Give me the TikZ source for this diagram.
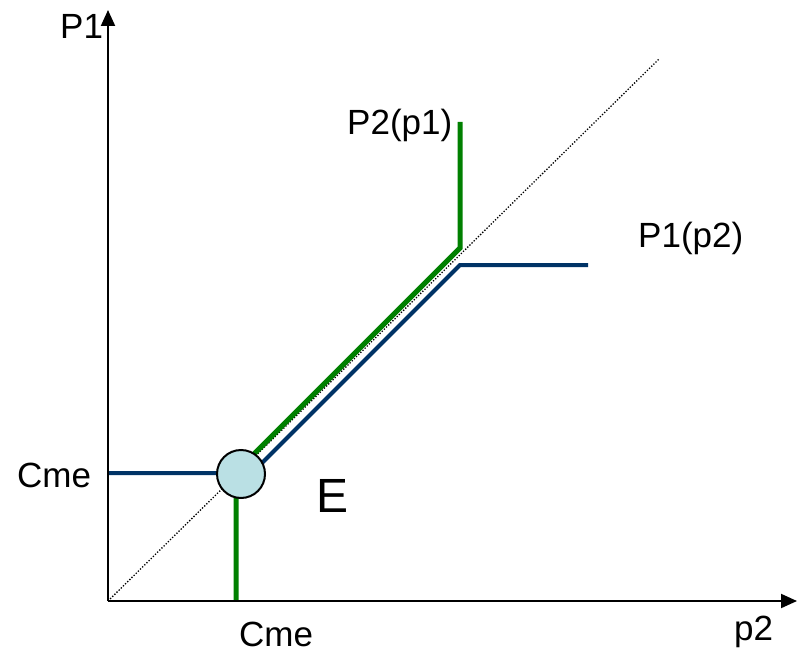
\documentclass[tikz,border=0pt]{standalone}
\usepackage{fontspec}
\setmainfont{Liberation Sans}
\usetikzlibrary{arrows.meta}
\definecolor{navy}{RGB}{0,51,102}
\definecolor{dgreen}{RGB}{0,128,0}
\definecolor{circfill}{RGB}{186,224,228}
\begin{document}
\begin{tikzpicture}[x=1pt,y=-1pt,
  axis/.style={line width=2pt,-{Triangle[length=16pt,width=14pt]}},
  lbl/.style={anchor=base west,inner sep=0pt,font=\fontsize{35}{42}\selectfont},
  blueline/.style={draw=navy,line width=4pt},
  greenline/.style={draw=dgreen,line width=5pt}]
\useasboundingbox (0,0) rectangle (802,655);
% coordinates
\coordinate (O) at (108,601);
\coordinate (Ytop) at (108,10);
\coordinate (Xend) at (797,601);
\coordinate (Dend) at (659,59);
\coordinate (b1) at (108,473);
\coordinate (b2) at (252,473);
\coordinate (b3) at (460,265);
\coordinate (b4) at (588,265);
\coordinate (g1) at (236,601);
\coordinate (g2) at (236,472);
\coordinate (g3) at (460,248);
\coordinate (g4) at (460,122);
% diagonal
\draw[line width=1.3pt,dash pattern=on 1.3pt off 1.7pt] (O) -- (Dend);
% reaction curves
\draw[blueline] (b1) -- (b2) -- (b3) -- (b4);
\draw[greenline] (g1) -- (g2) -- (g3) -- (g4);
% axes
\draw[axis] (O) -- (Ytop);
\draw[axis] (O) -- (Xend);
% equilibrium
\node[circle,draw=black,line width=2pt,fill=circfill,minimum size=48pt,inner sep=0pt] (E) at (241,474) {};
% labels
\node[lbl] (lP1) at (60,39) {P1};
\node[lbl] (lP2p1) at (347,135) {P2(p1)};
\node[lbl] (lP1p2) at (638,247) {P1(p2)};
\node[lbl] (lCmeY) at (17,487) {Cme};
\node[lbl] (lCmeX) at (239,646) {Cme};
\node[lbl] (lp2) at (734,640) {p2};
\node[anchor=base west,inner sep=0pt,font=\fontsize{48}{56}\selectfont] (lE) at (316,512) {E};
\end{tikzpicture}
\end{document}
